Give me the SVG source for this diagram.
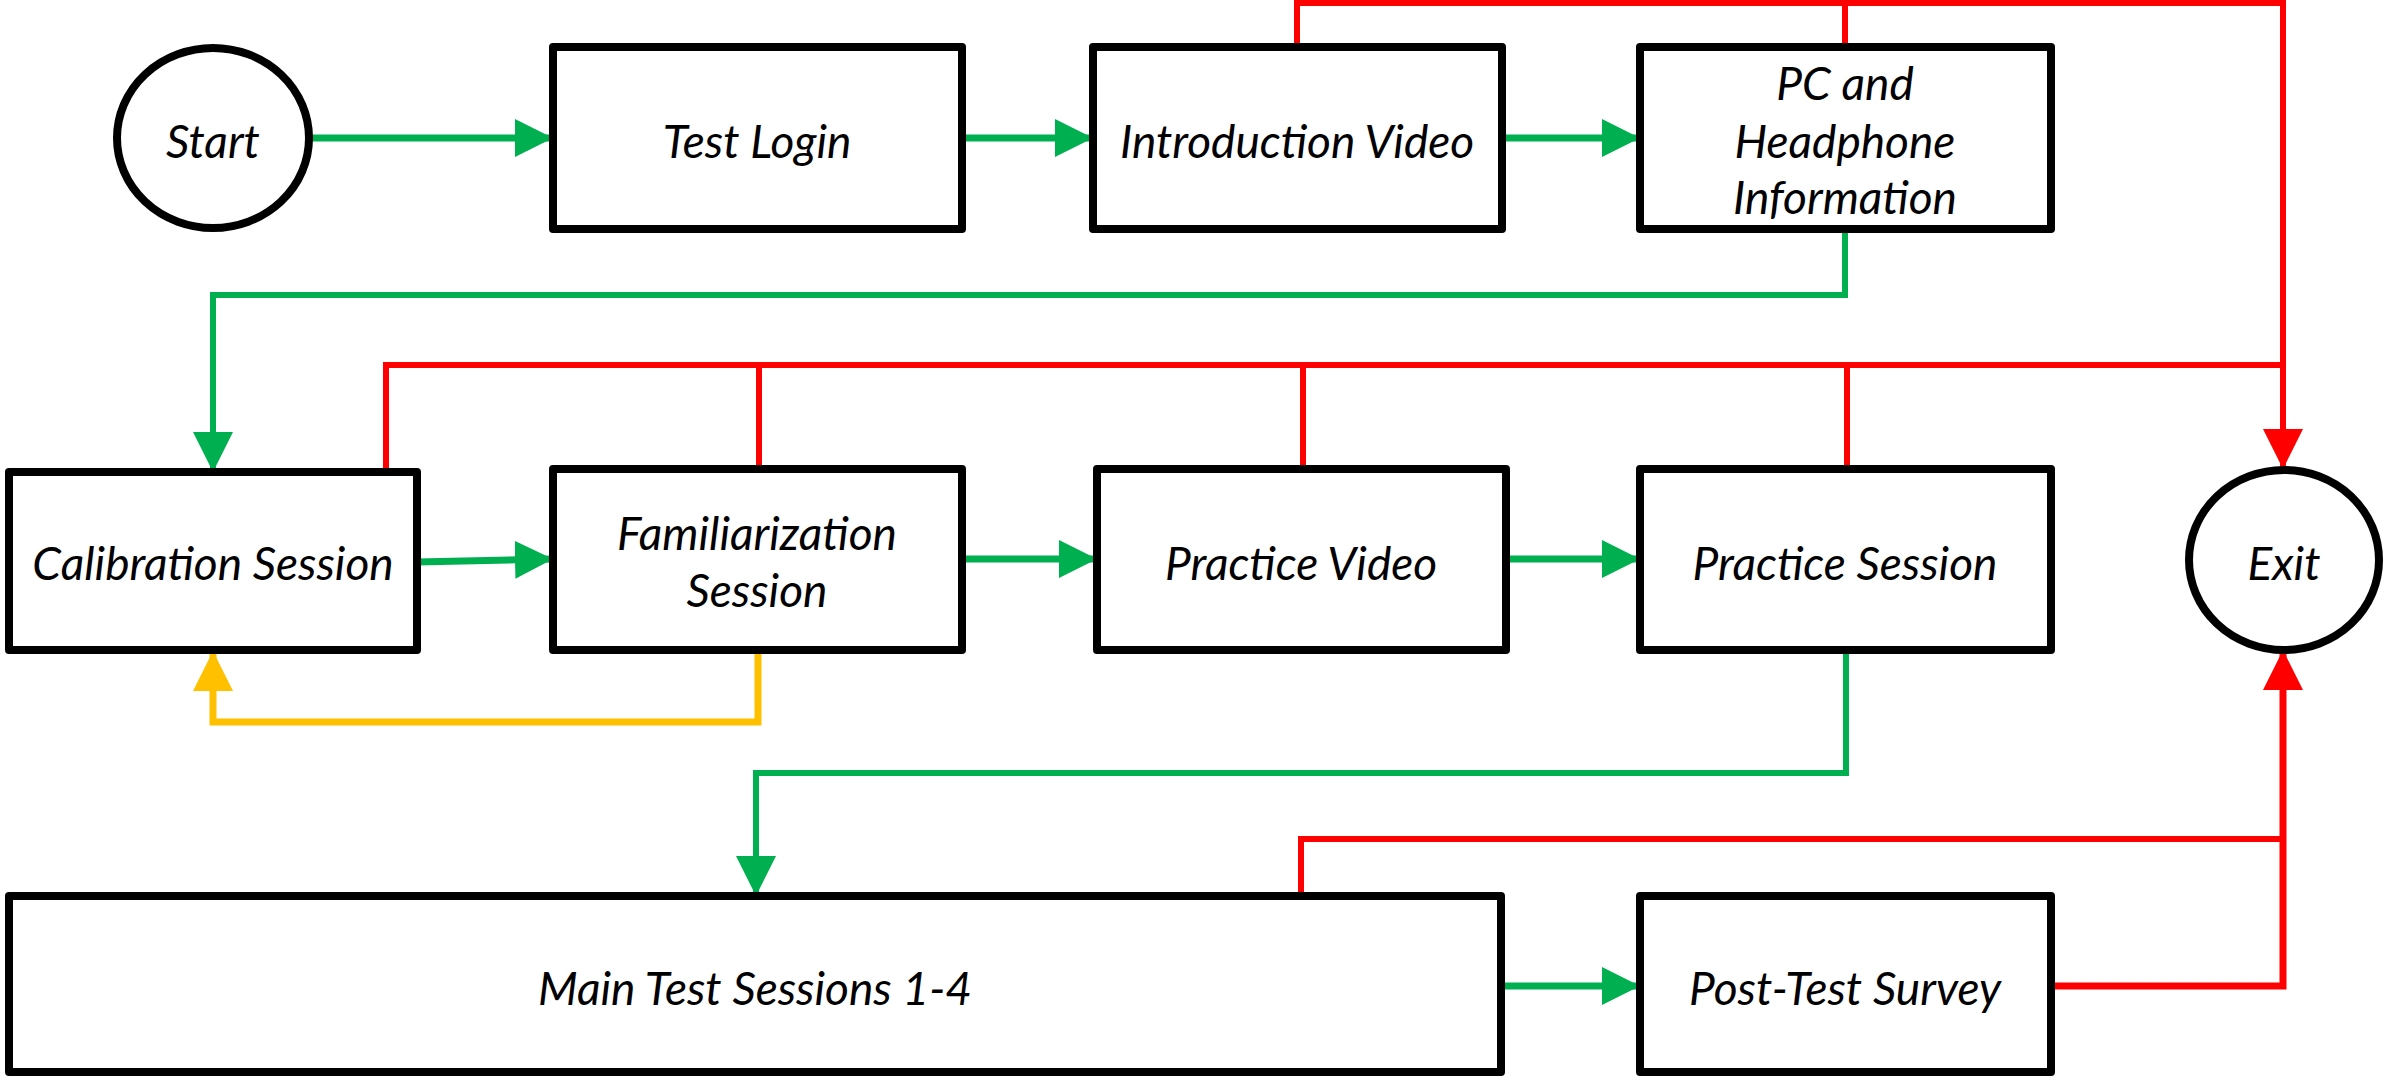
<svg xmlns="http://www.w3.org/2000/svg" width="2383" height="1076" viewBox="0 0 2383 1076">
<style>
.box{fill:#fff;stroke:#000;stroke-width:8;stroke-linejoin:round}
.t{font-family:Lato,"Liberation Sans",sans-serif;font-style:italic;font-size:46px;fill:#000;text-anchor:middle}
.g{fill:none;stroke:#00B050;stroke-width:7}
.gt{fill:none;stroke:#00B050;stroke-width:6}
.r{fill:none;stroke:#FF0000;stroke-width:6}
.y{fill:none;stroke:#FFC000;stroke-width:7}
</style>
<defs>
<marker id="ag" markerUnits="userSpaceOnUse" markerWidth="40" markerHeight="40" refX="38" refY="19" orient="auto"><path d="M0,0 L38,19 L0,38 Z" fill="#00B050"/></marker>
<marker id="agn" markerUnits="userSpaceOnUse" markerWidth="42" markerHeight="42" refX="40" refY="20" orient="auto"><path d="M0,0 L40,20 L0,40 Z" fill="#00B050"/></marker>
<marker id="ar" markerUnits="userSpaceOnUse" markerWidth="42" markerHeight="42" refX="40" refY="20" orient="auto"><path d="M0,0 L40,20 L0,40 Z" fill="#FF0000"/></marker>
<marker id="ay" markerUnits="userSpaceOnUse" markerWidth="42" markerHeight="42" refX="40" refY="20" orient="auto"><path d="M0,0 L40,20 L0,40 Z" fill="#FFC000"/></marker>
</defs>
<g id="connectors">
<path class="g" d="M310,138 L553,138" marker-end="url(#ag)"/>
<path class="g" d="M962,138 L1093,138" marker-end="url(#ag)"/>
<path class="g" d="M1502,138 L1640,138" marker-end="url(#ag)"/>
<path class="gt" d="M1845,229 L1845,295 L213,295 L213,472" marker-end="url(#agn)"/>
<path class="g" d="M417,562 L553,559" marker-end="url(#ag)"/>
<path class="g" d="M962,559 L1097,559" marker-end="url(#ag)"/>
<path class="g" d="M1506,559 L1640,559" marker-end="url(#ag)"/>
<path class="y" d="M758,650 L758,722 L213,722 L213,651" marker-end="url(#ay)"/>
<path class="gt" d="M1846,650 L1846,773 L756,773 L756,896" marker-end="url(#agn)"/>
<path class="g" d="M1501,986 L1640,986" marker-end="url(#ag)"/>
<path class="r" d="M1297,47 L1297,3 L2283,3 L2283,469" marker-end="url(#ar)"/>
<path class="r" d="M1845,47 L1845,3"/>
<path class="r" d="M386,472 L386,365 L2283,365"/>
<path class="r" d="M759,469 L759,365"/>
<path class="r" d="M1303,469 L1303,365"/>
<path class="r" d="M1847,469 L1847,365"/>
<path class="r" d="M1301,896 L1301,839 L2283,839"/>
<path class="r" style="stroke-width:7" d="M2051,986 L2283,986 L2283,650" marker-end="url(#ar)"/>
</g>
<g id="start"><ellipse class="box" cx="213" cy="138" rx="96" ry="90"/><text class="t" x="213" y="158">Start</text></g>
<g id="test-login"><rect class="box" x="553" y="47" width="409" height="182"/><text class="t" x="757" y="158">Test Login</text></g>
<g id="intro-video"><rect class="box" x="1093" y="47" width="409" height="182"/><text class="t" x="1297" y="158">Introduction Video</text></g>
<g id="pc-headphone"><rect class="box" x="1640" y="47" width="411" height="182"/><text class="t" x="1845" y="100">PC and</text><text class="t" x="1845" y="158">Headphone</text><text class="t" x="1845" y="214">Information</text></g>
<g id="calibration"><rect class="box" x="9" y="472" width="408" height="178"/><text class="t" x="213" y="580">Calibration Session</text></g>
<g id="familiarization"><rect class="box" x="553" y="469" width="409" height="181"/><text class="t" x="757" y="550">Familiarization</text><text class="t" x="757" y="607">Session</text></g>
<g id="practice-video"><rect class="box" x="1097" y="469" width="409" height="181"/><text class="t" x="1301" y="580">Practice Video</text></g>
<g id="practice-session"><rect class="box" x="1640" y="469" width="411" height="181"/><text class="t" x="1845" y="580">Practice Session</text></g>
<g id="exit"><ellipse class="box" cx="2284" cy="560" rx="95" ry="90"/><text class="t" x="2284" y="580">Exit</text></g>
<g id="main-test"><rect class="box" x="9" y="896" width="1492" height="176"/><text class="t" x="755" y="1005">Main Test Sessions 1-4</text></g>
<g id="post-test"><rect class="box" x="1640" y="896" width="411" height="176"/><text class="t" x="1845" y="1005">Post-Test Survey</text></g>
</svg>
